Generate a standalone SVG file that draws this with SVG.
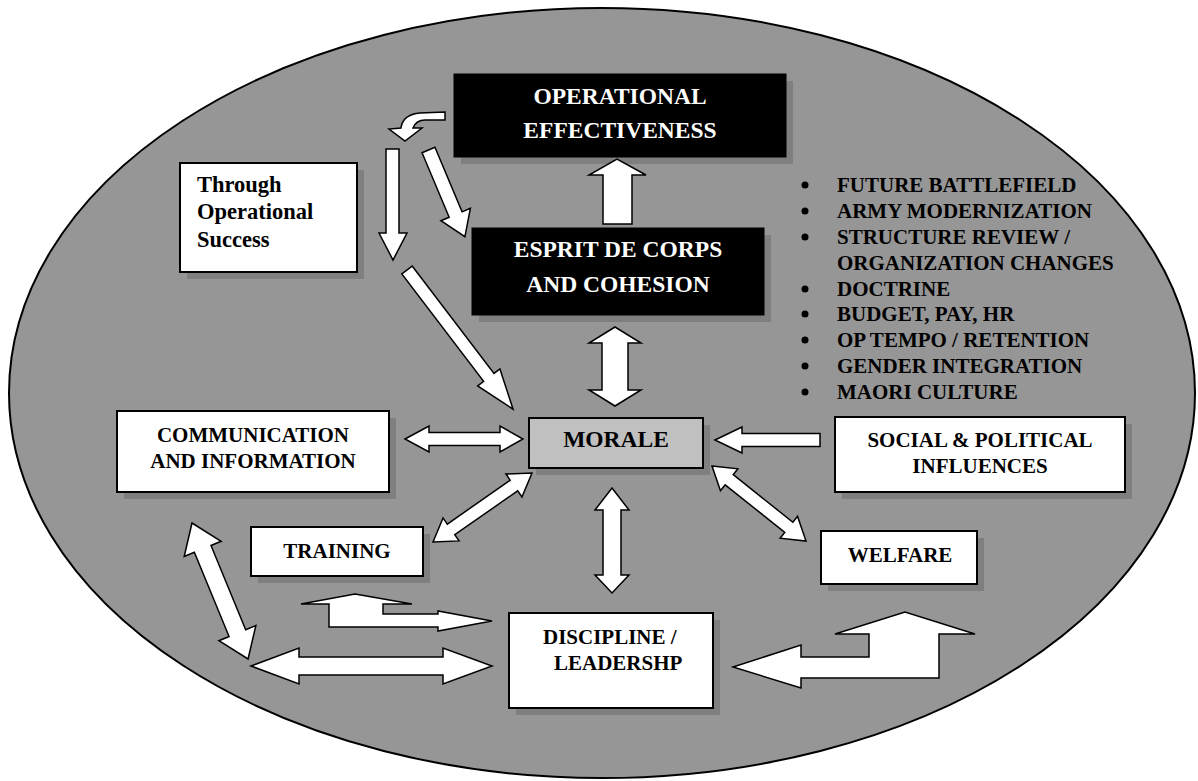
<svg xmlns="http://www.w3.org/2000/svg" width="1198" height="781" viewBox="0 0 1198 781">
<style>
.bg{fill:#969696;stroke:#000;stroke-width:2}
.sh{fill:#7f7f7f}
.wb{fill:#fff;stroke:#000;stroke-width:2}
.bb{fill:#000;stroke:#000;stroke-width:1}
.gb{fill:#c0c0c0;stroke:#000;stroke-width:2}
.t{font-family:"Liberation Serif","Times New Roman",serif;font-weight:bold;fill:#000}
.w{fill:#fff}
.m{text-anchor:middle}
.ar{fill:#fff;stroke:#000;stroke-width:1.5;stroke-linejoin:miter}
</style>
<rect width="1198" height="781" fill="#fff"/>
<ellipse class="bg" cx="602" cy="393" rx="593" ry="385"/>

<g id="operational-effectiveness">
<rect class="sh" x="461" y="81" width="332" height="83"/>
<rect class="bb" x="454" y="74" width="332" height="83"/>
<text class="t w m" x="620" y="104" font-size="23.5">OPERATIONAL</text>
<text class="t w m" x="620" y="138" font-size="23.5">EFFECTIVENESS</text>
</g>

<g id="esprit-de-corps">
<rect class="sh" x="479" y="235" width="292" height="87"/>
<rect class="bb" x="472" y="228" width="292" height="87"/>
<text class="t w m" x="618" y="257" font-size="23.5">ESPRIT DE CORPS</text>
<text class="t w m" x="618" y="292" font-size="23.5">AND COHESION</text>
</g>

<g id="through-operational-success">
<rect class="sh" x="187" y="170" width="177" height="109"/>
<rect class="wb" x="180" y="163" width="177" height="109"/>
<text class="t" x="197" y="192" font-size="22.5">Through</text>
<text class="t" x="197" y="219" font-size="22.5">Operational</text>
<text class="t" x="197" y="247" font-size="22.5">Success</text>
</g>

<g id="influences-list">
<g fill="#000">
<circle cx="805" cy="185" r="3.5"/>
<circle cx="805" cy="211" r="3.5"/>
<circle cx="805" cy="237" r="3.5"/>
<circle cx="805" cy="289" r="3.5"/>
<circle cx="805" cy="314" r="3.5"/>
<circle cx="805" cy="340" r="3.5"/>
<circle cx="805" cy="366" r="3.5"/>
<circle cx="805" cy="392" r="3.5"/>
</g>
<text class="t" x="837" y="192" font-size="21">FUTURE BATTLEFIELD</text>
<text class="t" x="837" y="218" font-size="21">ARMY MODERNIZATION</text>
<text class="t" x="837" y="244" font-size="21">STRUCTURE REVIEW /</text>
<text class="t" x="837" y="270" font-size="21">ORGANIZATION CHANGES</text>
<text class="t" x="837" y="296" font-size="21">DOCTRINE</text>
<text class="t" x="837" y="321" font-size="21">BUDGET, PAY, HR</text>
<text class="t" x="837" y="347" font-size="21">OP TEMPO / RETENTION</text>
<text class="t" x="837" y="373" font-size="21">GENDER INTEGRATION</text>
<text class="t" x="837" y="399" font-size="21">MAORI CULTURE</text>
</g>

<g id="communication">
<rect class="sh" x="124" y="418" width="272" height="81"/>
<rect class="wb" x="117" y="411" width="272" height="81"/>
<text class="t m" x="253" y="442" font-size="21">COMMUNICATION</text>
<text class="t m" x="253" y="468" font-size="21">AND INFORMATION</text>
</g>

<g id="morale">
<rect class="sh" x="536" y="425" width="174" height="50"/>
<rect class="gb" x="529" y="418" width="174" height="50"/>
<text class="t m" x="616" y="447" font-size="23.5">MORALE</text>
</g>

<g id="social-political">
<rect class="sh" x="842" y="424" width="290" height="75"/>
<rect class="wb" x="835" y="417" width="290" height="75"/>
<text class="t m" x="980" y="447" font-size="21">SOCIAL &amp; POLITICAL</text>
<text class="t m" x="980" y="473" font-size="21">INFLUENCES</text>
</g>

<g id="training">
<rect class="sh" x="258" y="534" width="172" height="49"/>
<rect class="wb" x="251" y="527" width="172" height="49"/>
<text class="t m" x="337" y="558" font-size="21">TRAINING</text>
</g>

<g id="welfare">
<rect class="sh" x="828" y="538" width="156" height="53"/>
<rect class="wb" x="821" y="531" width="156" height="53"/>
<text class="t m" x="900" y="562" font-size="21">WELFARE</text>
</g>

<g id="discipline-leadership">
<rect class="sh" x="516" y="620" width="204" height="95"/>
<rect class="wb" x="509" y="613" width="204" height="95"/>
<text class="t" x="543" y="644" font-size="21">DISCIPLINE /</text>
<text class="t" x="554" y="670" font-size="21">LEADERSHP</text>
</g>

<g id="connectors">
<path class="ar" d="M445,112 L420,113 C408,114 402,120 401,128 L389,129 L405,141 L422,128 L413,128 C415,123 419,120 425,120 L445,120 Z"/>
<polygon class="ar" points="386,149 399,149 399,233 407,233 393,260 379,233 386,233"/>
<polygon class="ar" transform="translate(428.5,150) rotate(67.2)" points="0,-7 70,-7 70,-16 94,0 70,16 70,7 0,7"/>
<polygon class="ar" transform="translate(407,270) rotate(52.7)" points="0,-6.5 135,-6.5 135,-14 175,0 135,14 135,6.5 0,6.5"/>
<polygon class="ar" points="603,224 603,175 589,175 617,159 646,175 632,175 632,224"/>
<polygon class="ar" points="615,327 641,343 628,343 628,390 641,390 615,406 589,390 602,390 602,343 589,343"/>
<polygon class="ar" points="405,439 429,426 429,432.5 500,432.5 500,426 523,439 500,452 500,445.5 429,445.5 429,452"/>
<polygon class="ar" points="715,440 742,427 742,433.5 820,433.5 820,446.5 742,446.5 742,453"/>
<polygon class="ar" transform="translate(433,542) rotate(-34.9)" points="0,0 22,-14 22,-6.5 98.7,-6.5 98.7,-14 120.7,0 98.7,14 98.7,6.5 22,6.5 22,14"/>
<polygon class="ar" transform="translate(712,466) rotate(38.6)" points="0,0 22,-14 22,-6.5 98.3,-6.5 98.3,-14 120.3,0 98.3,14 98.3,6.5 22,6.5 22,14"/>
<polygon class="ar" points="612,488 629,510 621,510 621,575 629,575 612,593 595,575 603,575 603,510 595,510"/>
<polygon class="ar" transform="translate(192,523) rotate(67.6)" points="0,0 28,-20 28,-9 119.1,-9 119.1,-20 147.1,0 119.1,20 119.1,9 28,9 28,20"/>
<polygon class="ar" points="251,666 299,648 299,657 443,657 443,648 492,666 443,684 443,675 299,675 299,684"/>
<polygon class="ar" points="355,594 412,604 383,604 383,614 438,614 438,611 492,621 438,631 438,627 329,627 329,604 301,604"/>
<polygon class="ar" points="733,667 801,645 801,657 869,657 869,634 835,634 905,612 975,634 939,634 939,678 801,678 801,688"/>
</g>
</svg>
